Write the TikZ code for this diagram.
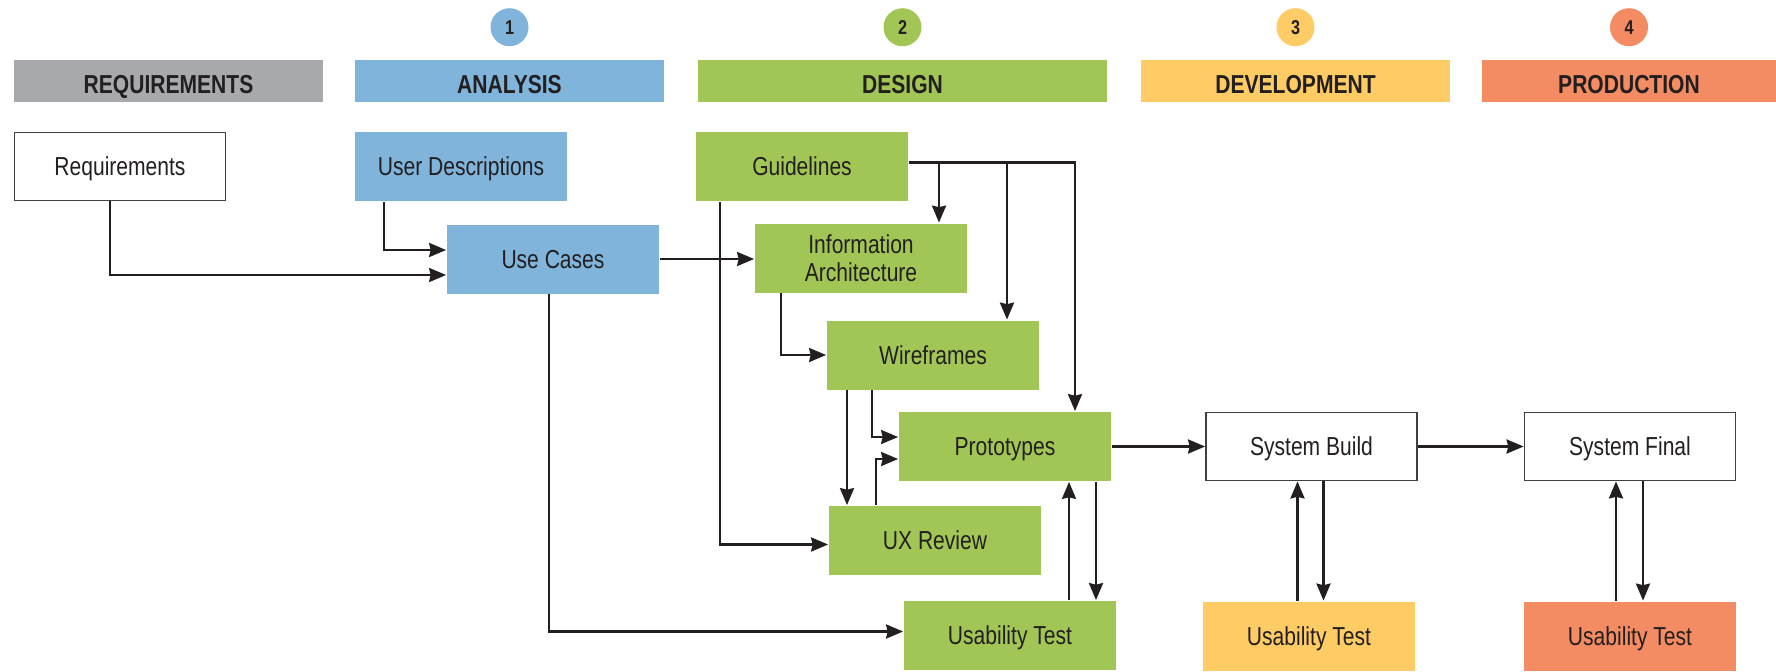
\documentclass[tikz,border=0pt]{standalone}
\usepackage{fontspec}
\setmainfont{Liberation Sans}[FakeStretch=0.81]
\usepackage{xcolor}
\usepackage{tikz}
\usetikzlibrary{arrows.meta,positioning}

\definecolor{inkdark}{HTML}{231F20}
\definecolor{reqgray}{HTML}{A7A9AC}
\definecolor{anablue}{HTML}{80B4DA}
\definecolor{desgreen}{HTML}{A2C656}
\definecolor{devyellow}{HTML}{FECB65}
\definecolor{prodorange}{HTML}{F48C63}

\begin{document}
\begin{tikzpicture}[
  x=0.5pt, y=-0.5pt,
  font=\fontsize{13}{14}\selectfont, text=inkdark,
  box/.style={draw=black!75, line width=0.9pt, fill=white, align=center,
    inner sep=0pt, minimum width=105.5pt, minimum height=34pt,
    text height=9.3pt, text depth=0pt},
  analysis/.style={box, draw=none, fill=anablue, minimum width=106pt, minimum height=34.5pt},
  design/.style={analysis, fill=desgreen},
  devel/.style={analysis, fill=devyellow},
  prod/.style={analysis, fill=prodorange},
  phase/.style={font=\fontsize{13}{14}\selectfont\bfseries, inner sep=0pt,
    minimum width=154.5pt, minimum height=21pt, text height=12.5pt, text depth=0pt},
  badge/.style={circle, inner sep=0pt, minimum size=19pt,
    font=\fontsize{10}{10}\selectfont\bfseries},
  flow/.style={-{Stealth[length=8.5pt,width=7pt,inset=0.8pt]}, line width=1.3pt, draw=inkdark}
]
\useasboundingbox (0,0) rectangle (1776,671);

% phase bars and their numbers
\node[phase, fill=reqgray] (hreq) at (168.5,81) {REQUIREMENTS};
\node[phase, fill=anablue] (hana) at (509.5,81) {ANALYSIS};
\node[phase, fill=desgreen, minimum width=204.5pt] (hdes) at (902.5,81) {DESIGN};
\node[phase, fill=devyellow] (hdev) at (1295.5,81) {DEVELOPMENT};
\node[phase, fill=prodorange, minimum width=147pt] (hprod) at (1629,81) {PRODUCTION};
\node[badge, fill=anablue, above=6.5pt of hana] (n1) {1};
\node[badge, fill=desgreen, above=6.5pt of hdes] (n2) {2};
\node[badge, fill=devyellow, above=6.5pt of hdev] (n3) {3};
\node[badge, fill=prodorange, above=6.5pt of hprod] (n4) {4};

% steps
\node[box] (req) at (120,166.5) {Requirements};
\node[analysis] (udesc) at (461,166.5) {User Descriptions};
\node[analysis] (usecases) at (553,259) {Use Cases};
\node[design] (guide) at (802,166.5) {Guidelines};
\node[design, text height=23.3pt] (infoarch) at (861,258) {Information\\Architecture};
\node[design] (wire) at (933,355) {Wireframes};
\node[design] (proto) at (1005,446.5) {Prototypes};
\node[design] (uxrev) at (935,540.5) {UX Review};
\node[design] (utdes) at (1010,635.5) {Usability Test};
\node[box] (build) at (1311.5,446.5) {System Build};
\node[box] (final) at (1630,446.5) {System Final};
\node[devel] (utdev) at (1309,636) {Usability Test};
\node[prod] (utprod) at (1630,636) {Usability Test};

% analysis
\draw[flow] ([xshift=-5pt]req.south) |- ([yshift=-8pt]usecases.west);
\draw[flow] ([xshift=-38.5pt]udesc.south) |- ([yshift=4.5pt]usecases.west);
\draw[flow] (usecases.east) -- (usecases.east -| infoarch.west);
\draw[flow] ([xshift=-2pt]usecases.south) |- ([yshift=2pt]utdes.west);

% guidelines feed the design steps
\coordinate (g1) at ([yshift=2pt]guide.east);
\coordinate (iatop) at ([xshift=39pt]infoarch.north);
\coordinate (wftop) at ([xshift=37pt]wire.north);
\draw[flow] (g1) -| ([xshift=35pt]proto.north);
\draw[flow] (g1 -| iatop) -- (iatop);
\draw[flow] (g1 -| wftop) -- (wftop);
\draw[flow] ([xshift=-41pt]guide.south) |- ([yshift=-2pt]uxrev.west);

% design
\coordinate (wfa) at ([xshift=-43pt]wire.south);
\draw[flow] ([xshift=-40pt]infoarch.south) |- (wire.west);
\draw[flow] (wfa) -- (wfa |- uxrev.north);
\draw[flow] ([xshift=-30.5pt]wire.south) |- ([yshift=4.75pt]proto.west);
\draw[flow] ([xshift=-29.5pt]uxrev.north) |- ([yshift=-6.25pt]proto.west);

% build and release
\draw[flow] (proto) -- (build);
\draw[flow] (build) -- (final);

% test loops
\coordinate (pu) at ([xshift=32pt]proto.south);
\coordinate (pd) at ([xshift=45.5pt]proto.south);
\coordinate (bu) at ([xshift=-7pt]build.south);
\coordinate (bd) at ([xshift=6pt]build.south);
\coordinate (fu) at ([xshift=-7pt]final.south);
\coordinate (fd) at ([xshift=6.5pt]final.south);
\draw[flow] (pu |- utdes.north) -- (pu);
\draw[flow] (pd) -- (pd |- utdes.north);
\draw[flow] (bu |- utdev.north) -- (bu);
\draw[flow] (bd) -- (bd |- utdev.north);
\draw[flow] (fu |- utprod.north) -- (fu);
\draw[flow] (fd) -- (fd |- utprod.north);
\end{tikzpicture}
\end{document}
